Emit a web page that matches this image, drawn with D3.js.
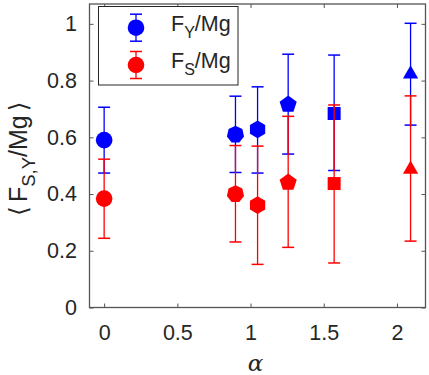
<!DOCTYPE html>
<html>
<head>
<meta charset="utf-8">
<script src="https://cdn.jsdelivr.net/npm/d3@7"></script>
<style>
  body { margin: 0; background: #fff; }
  text { font-family: "Liberation Sans", Arial, sans-serif; fill: #262626; }
</style>
</head>
<body>
<svg id="chart" width="429" height="375"></svg>
<script>
// alpha values and marker shapes
const alphas = [0, 0.897, 1.048, 1.257, 1.571, 2.093];
const shapes = ["circle", "heptagon", "hexagon", "pentagon", "square", "triangle"];

// F_Y / Mg
const fyMean = [0.590, 0.610, 0.628, 0.716, 0.684, 0.823];
const fyLow  = [0.474, 0.476, 0.474, 0.541, 0.483, 0.643];
const fyHigh = [0.706, 0.745, 0.778, 0.893, 0.890, 1.002];

// F_S / Mg
const fsMean = [0.384, 0.400, 0.361, 0.441, 0.437, 0.487];
const fsLow  = [0.244, 0.231, 0.152, 0.212, 0.157, 0.234];
const fsHigh = [0.523, 0.571, 0.569, 0.674, 0.714, 0.746];

const xTicks = [0, 0.5, 1, 1.5, 2];
const yTicks = [0, 0.2, 0.4, 0.6, 0.8, 1];

const margin = {top: 4, right: 3.5, bottom: 67.5, left: 89.5},
    width = 429 - margin.left - margin.right,
    height = 375 - margin.top - margin.bottom;

const svg = d3.select("#chart")
  .append("g")
  .attr("transform", `translate(${margin.left},${margin.top})`);

const x = d3.scaleLinear().domain([-0.1, 2.195]).range([0, width]);
const y = d3.scaleLinear().domain([0, 1.07]).range([height, 0]);

// axes (box with inward ticks)
const axColor = "#555";
function styleAxis(g) {
  g.select(".domain").remove();
  g.selectAll(".tick line").attr("stroke", axColor);
  g.selectAll(".tick text").style("font-size", "21.5px").attr("fill", "#262626");
}
svg.append("g").attr("transform", `translate(0,${height})`)
  .call(d3.axisBottom(x).tickValues(xTicks).tickSizeInner(-4).tickPadding(17).tickFormat(d3.format("")))
  .call(styleAxis);
svg.append("g")
  .call(d3.axisLeft(y).tickValues(yTicks).tickSizeInner(-4).tickPadding(12.5).tickFormat(d3.format("")))
  .call(styleAxis);
svg.append("g")
  .call(d3.axisTop(x).tickValues(xTicks).tickSizeInner(-4).tickFormat(""))
  .call(styleAxis);
svg.append("g").attr("transform", `translate(${width},0)`)
  .call(d3.axisRight(y).tickValues(yTicks).tickSizeInner(-4).tickFormat(""))
  .call(styleAxis);
svg.append("rect")
  .attr("width", width).attr("height", height)
  .attr("fill", "none").attr("stroke", axColor).attr("stroke-width", 1.3);

// marker shapes
function polygon(n, r, rot) {
  const pts = [];
  for (let i = 0; i < n; i++) {
    const a = rot + i * 2 * Math.PI / n;
    pts.push([r * Math.sin(a), -r * Math.cos(a)]);
  }
  return "M" + pts.map(p => p.join(",")).join("L") + "Z";
}
function markerPath(shape) {
  switch (shape) {
    case "circle": return d3.symbol(d3.symbolCircle, Math.PI * 8.3 * 8.3)();
    case "heptagon": return polygon(7, 8.8, 0);
    case "hexagon": return polygon(6, 8.8, 0);
    case "pentagon": return polygon(5, 9, 0);
    case "square": return "M-6.5,-6.5H6.5V6.5H-6.5Z";
    case "triangle": return polygon(3, 8.8, 0);
  }
}

const series = [
  {name: "Y", color: "#0000ff", mean: fyMean, low: fyLow, high: fyHigh},
  {name: "S", color: "#ff0000", mean: fsMean, low: fsLow, high: fsHigh}
];
const cap = 6;

series.forEach(s => {
  const pts = alphas.map((a, i) => ({a, m: s.mean[i], lo: s.low[i], hi: s.high[i], shape: shapes[i]}));
  const g = svg.append("g");
  const eb = g.selectAll(".eb").data(pts).enter().append("g");
  eb.append("line")
    .attr("x1", d => x(d.a)).attr("x2", d => x(d.a))
    .attr("y1", d => y(d.lo)).attr("y2", d => y(d.hi))
    .attr("stroke", s.color).attr("stroke-width", 1.3);
  eb.append("line")
    .attr("x1", d => x(d.a) - cap).attr("x2", d => x(d.a) + cap)
    .attr("y1", d => y(d.lo)).attr("y2", d => y(d.lo))
    .attr("stroke", s.color).attr("stroke-width", 1.5);
  eb.append("line")
    .attr("x1", d => x(d.a) - cap).attr("x2", d => x(d.a) + cap)
    .attr("y1", d => y(d.hi)).attr("y2", d => y(d.hi))
    .attr("stroke", s.color).attr("stroke-width", 1.5);
  g.selectAll(".mk").data(pts).enter().append("path")
    .attr("d", d => markerPath(d.shape))
    .attr("transform", d => `translate(${x(d.a)},${y(d.m)})`)
    .attr("fill", s.color);
});

// legend
const lg = d3.select("#chart").append("g");
lg.append("rect")
  .attr("x", 98.5).attr("y", 6.5).attr("width", 139.5).attr("height", 78.5)
  .attr("fill", "#fff").attr("stroke", "#262626").attr("stroke-width", 1);
series.forEach((s, i) => {
  const cy = 27.7 + i * 37.3;
  const gi = lg.append("g").attr("transform", `translate(136,${cy})`);
  gi.append("line").attr("x1", 0).attr("x2", 0).attr("y1", -13.5).attr("y2", 13.5)
    .attr("stroke", s.color).attr("stroke-width", 1.3);
  [-13.5, 13.5].forEach(v => gi.append("line")
    .attr("x1", -cap).attr("x2", cap).attr("y1", v).attr("y2", v)
    .attr("stroke", s.color).attr("stroke-width", 1.5));
  gi.append("circle").attr("r", 8.3).attr("fill", s.color);
  const t = lg.append("text").attr("x", 171).attr("y", cy + 3).style("font-size", "21.5px");
  t.append("tspan").text("F");
  t.append("tspan").attr("dy", 7).style("font-size", "16px").text(s.name);
  t.append("tspan").attr("dy", -7).text("/Mg");
});

// y label
const yl = d3.select("#chart").append("text")
  .attr("transform", `translate(27,${margin.top + height / 2 + 3}) rotate(-90)`)
  .attr("text-anchor", "middle")
  .style("font-size", "25px");
yl.append("tspan").style("font-family", "'DejaVu Sans', sans-serif").style("font-weight", "200").text("\u27E8");
yl.append("tspan").attr("dx", 4).text("F");
yl.append("tspan").attr("dy", 8).style("font-size", "18.5px").text("S,Y");
yl.append("tspan").attr("dy", -8).text("/Mg");
yl.append("tspan").attr("dx", 4).style("font-family", "'DejaVu Sans', sans-serif").text("\u27E9");

// x label
d3.select("#chart").append("text")
  .attr("x", margin.left + width / 2 - 2).attr("y", 371)
  .attr("text-anchor", "middle")
  .style("font-size", "23px").style("font-style", "italic")
  .style("font-family", "'DejaVu Serif', 'Liberation Serif', serif")
  .text("\u03B1");
</script>
</body>
</html>
